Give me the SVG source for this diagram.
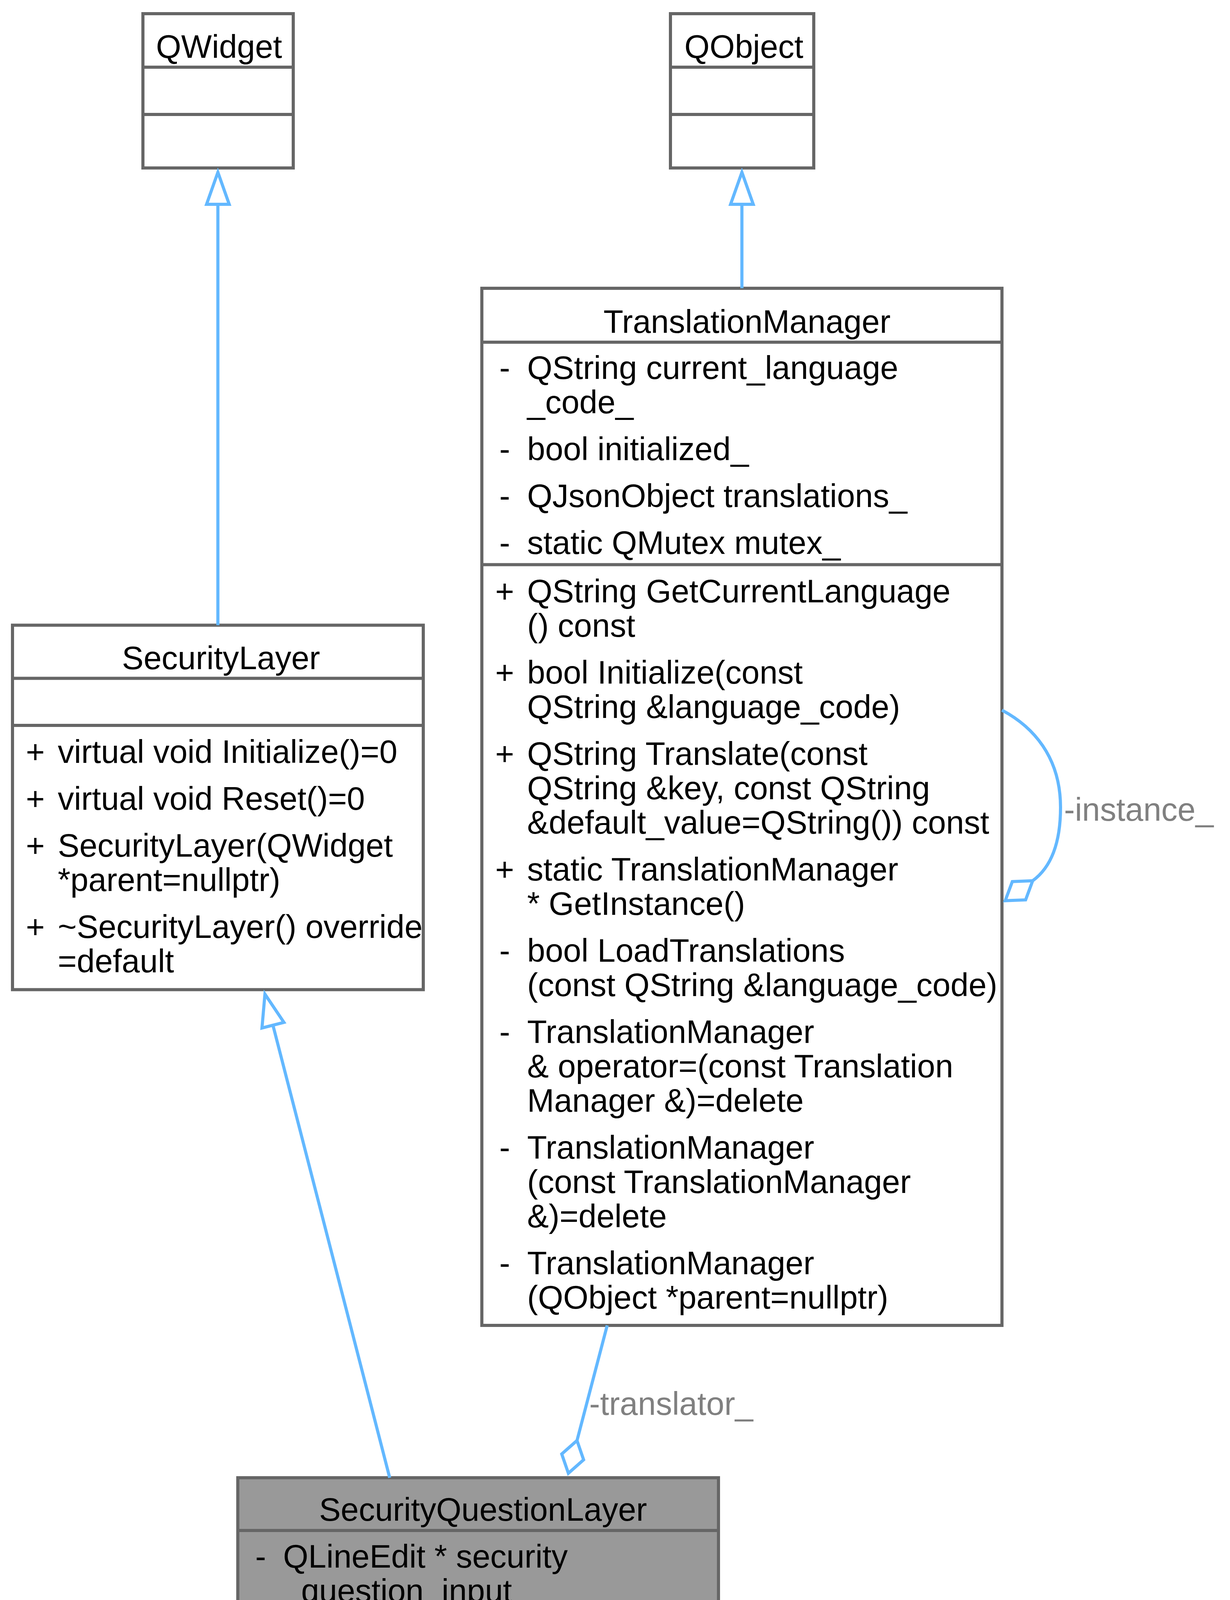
<svg xmlns="http://www.w3.org/2000/svg" width="3150" height="5583" viewBox="0 0 3150 5583">
<style>
.bg{fill:#ffffff}
.box{fill:#ffffff;stroke:#666666;stroke-width:8}
.boxg{fill:#999999;stroke:#666666;stroke-width:8}
.dv{stroke:#666666;stroke-width:8;fill:none}
.t{font-family:"Liberation Sans",Arial,Helvetica,sans-serif;font-size:83px;fill:#000000}
.c{text-anchor:middle}
.e{fill:none;stroke:#63b8ff;stroke-width:8}
.ah{fill:none;stroke:#63b8ff;stroke-width:8}
.lbl{font-family:"Liberation Sans",Arial,Helvetica,sans-serif;font-size:83px;fill:#808080}
</style>
<rect class="bg" x="0" y="0" width="3150" height="5583"/>

<g id="node-QWidget">
<rect class="box" x="366" y="35" width="385" height="395"/>
<line class="dv" x1="366" y1="172" x2="751" y2="172"/>
<line class="dv" x1="366" y1="293" x2="751" y2="293"/>
<text class="t c" x="561" y="148">QWidget</text>
</g>

<g id="node-QObject">
<rect class="box" x="1717" y="35" width="367" height="395"/>
<line class="dv" x1="1717" y1="172" x2="2084" y2="172"/>
<line class="dv" x1="1717" y1="293" x2="2084" y2="293"/>
<text class="t c" x="1905" y="148">QObject</text>
</g>

<g id="node-TranslationManager">
<rect class="box" x="1234" y="738" width="1332" height="2655"/>
<line class="dv" x1="1234" y1="876" x2="2566" y2="876"/>
<line class="dv" x1="1234" y1="1445.5" x2="2566" y2="1445.5"/>
<text class="t c" x="1913" y="852">TranslationManager</text>
<g class="t c">
<text x="1292.5" y="970">-</text>
<text x="1292.5" y="1178">-</text>
<text x="1292.5" y="1298">-</text>
<text x="1292.5" y="1418">-</text>
<text x="1292.5" y="1542">+</text>
<text x="1292.5" y="1750">+</text>
<text x="1292.5" y="1958">+</text>
<text x="1292.5" y="2254">+</text>
<text x="1292.5" y="2462">-</text>
<text x="1292.5" y="2670">-</text>
<text x="1292.5" y="2966">-</text>
<text x="1292.5" y="3262">-</text>
</g>
<g class="t">
<text x="1350" y="970">QString current_language</text>
<text x="1350" y="1058">_code_</text>
<text x="1350" y="1178">bool initialized_</text>
<text x="1350" y="1298">QJsonObject translations_</text>
<text x="1350" y="1418">static QMutex mutex_</text>
<text x="1350" y="1542">QString GetCurrentLanguage</text>
<text x="1350" y="1630">() const</text>
<text x="1350" y="1750">bool Initialize(const</text>
<text x="1350" y="1838">QString &amp;language_code)</text>
<text x="1350" y="1958">QString Translate(const</text>
<text x="1350" y="2046">QString &amp;key, const QString</text>
<text x="1350" y="2134">&amp;default_value=QString()) const</text>
<text x="1350" y="2254">static TranslationManager</text>
<text x="1350" y="2342">* GetInstance()</text>
<text x="1350" y="2462">bool LoadTranslations</text>
<text x="1350" y="2550">(const QString &amp;language_code)</text>
<text x="1350" y="2670">TranslationManager</text>
<text x="1350" y="2758">&amp; operator=(const Translation</text>
<text x="1350" y="2846">Manager &amp;)=delete</text>
<text x="1350" y="2966">TranslationManager</text>
<text x="1350" y="3054">(const TranslationManager</text>
<text x="1350" y="3142">&amp;)=delete</text>
<text x="1350" y="3262">TranslationManager</text>
<text x="1350" y="3350">(QObject *parent=nullptr)</text>
</g>
</g>

<g id="node-SecurityLayer">
<rect class="box" x="32" y="1600.5" width="1052" height="933"/>
<line class="dv" x1="32" y1="1736.5" x2="1084" y2="1736.5"/>
<line class="dv" x1="32" y1="1857" x2="1084" y2="1857"/>
<text class="t c" x="566" y="1713">SecurityLayer</text>
<g class="t c">
<text x="90.5" y="1953">+</text>
<text x="90.5" y="2073">+</text>
<text x="90.5" y="2193">+</text>
<text x="90.5" y="2401">+</text>
</g>
<g class="t">
<text x="148" y="1953">virtual void Initialize()=0</text>
<text x="148" y="2073">virtual void Reset()=0</text>
<text x="148" y="2193">SecurityLayer(QWidget</text>
<text x="148" y="2281">*parent=nullptr)</text>
<text x="148" y="2401">~SecurityLayer() override</text>
<text x="148" y="2489">=default</text>
</g>
</g>

<g id="node-SecurityQuestionLayer">
<rect class="boxg" x="609" y="3783" width="1231" height="1764"/>
<line class="dv" x1="609" y1="3918" x2="1840" y2="3918"/>
<line class="dv" x1="609" y1="4544" x2="1840" y2="4544"/>
<text class="t c" x="1237" y="3893">SecurityQuestionLayer</text>
<g class="t c">
<text x="667.5" y="4013">-</text>
<text x="667.5" y="4221">-</text>
<text x="667.5" y="4429">-</text>
<text x="667.5" y="4638">+</text>
<text x="667.5" y="4758">+</text>
<text x="667.5" y="4878">+</text>
<text x="667.5" y="5086">+</text>
<text x="667.5" y="5294">-</text>
<text x="667.5" y="5414">-</text>
</g>
<g class="t">
<text x="725" y="4013">QLineEdit * security</text>
<text x="725" y="4101">_question_input_</text>
<text x="725" y="4221">QLabel * security_question</text>
<text x="725" y="4309">_label_</text>
<text x="725" y="4429">QTimer * security_question</text>
<text x="725" y="4517">_timer_</text>
<text x="725" y="4638">void Initialize() override</text>
<text x="725" y="4758">void Reset() override</text>
<text x="725" y="4878">SecurityQuestionLayer</text>
<text x="725" y="4966">(QWidget *parent=nullptr)</text>
<text x="725" y="5086">~SecurityQuestionLayer</text>
<text x="725" y="5174">() override</text>
<text x="725" y="5294">void CheckSecurityAnswer()</text>
<text x="725" y="5414">void SecurityQuestionTimeout</text>
<text x="725" y="5502">() const</text>
</g>
</g>

<g id="connectors">
<g id="edge-QWidget-SecurityLayer">
<path class="e" d="M558,523 V1600.5"/>
<polygon class="ah" points="558,441 529,523 587,523"/>
</g>
<g id="edge-QObject-TranslationManager">
<path class="e" d="M1900,523 V738"/>
<polygon class="ah" points="1900,441 1871,523 1929,523"/>
</g>
<g id="edge-SecurityLayer-SecurityQuestionLayer">
<path class="e" d="M699,2624.5 L998,3783"/>
<polygon class="ah" points="678.5,2545 727.1,2617.3 670.9,2631.7"/>
</g>
<g id="edge-translator">
<path class="e" d="M1555,3393 L1477.7,3687.7"/>
<polygon class="ah" points="1477.7,3687.7 1494.6,3737 1455.6,3771.5 1438.6,3722.2"/>
<text class="lbl" x="1509" y="3622">-translator_</text>
</g>
<g id="edge-instance">
<path class="e" d="M2566,1818 C2645,1860 2716,1937 2716,2067 C2716,2157 2693,2219.5 2644.6,2254.8"/>
<polygon class="ah" points="2644.6,2254.8 2626.6,2303.7 2574.4,2305.7 2592.5,2256.8"/>
<text class="lbl" x="2725" y="2101">-instance_</text>
</g>
</g>
</svg>
